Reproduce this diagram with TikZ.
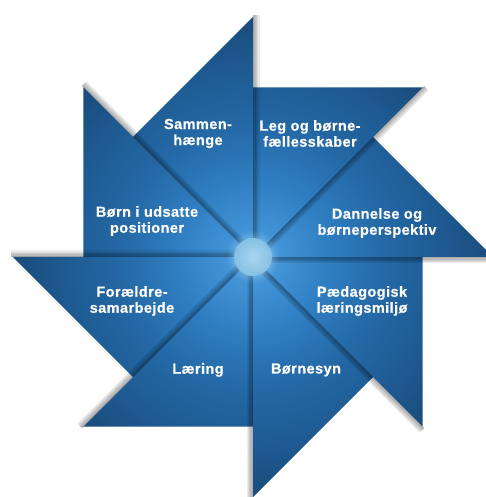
\documentclass[tikz,border=0pt]{standalone}
\usepackage{fontspec}
\setmainfont{Liberation Sans}
\definecolor{cA}{HTML}{5AAAE6}
\definecolor{cB}{HTML}{4293D6}
\definecolor{cC}{HTML}{2F7EC1}
\definecolor{cD}{HTML}{2468A5}
\definecolor{cE}{HTML}{1E5990}
\definecolor{cF}{HTML}{1A4B7B}
\definecolor{circIn}{HTML}{A8D6F0}
\definecolor{circOut}{HTML}{86C0E4}
\definecolor{glow}{HTML}{9FD0F0}
\pgfdeclareradialshading{pinwheel}{\pgfpoint{0bp}{0bp}}{color(0bp)=(cA); color(3bp)=(cB); color(8bp)=(cC); color(14bp)=(cD); color(20bp)=(cE); color(25bp)=(cF); color(50bp)=(cF)}
\begin{document}
\begin{tikzpicture}[x=1pt,y=1pt,
  lbl/.style={text=white, font=\bfseries\fontsize{14.5}{16}\selectfont\addfontfeatures{LetterSpace=3,FakeBold=0.6}, align=center, inner sep=0pt},
  shadowstrip/.style={black, opacity=0.075}]
\useasboundingbox (-253,-240) rectangle (233,257);
\coordinate (C) at (0,0);
% blades with a common radial shading
\begin{scope}
  \clip \foreach \t in {90,45,...,-225} { (0,0) -- (\t:240) -- (\t+45:169.706) -- cycle };
  \shade[shading=pinwheel] (C) circle (240);
\end{scope}
% shadows along each hypotenuse
\foreach \t in {90,45,...,-225} {
  \begin{scope}[rotate=\t]
    \foreach \w in {1.3,2.6,...,7.8} \fill[shadowstrip] (0,0) rectangle (242,-\w);
  \end{scope}
}
% centre
\foreach \r/\o in {26/0.06, 23.5/0.1, 21/0.15} \fill[glow, opacity=\o] (C) circle (\r);
\shade[inner color=circIn, outer color=circOut] (C) circle (19);
% labels
\node[lbl] (n1) at (-55,123.5) {Sammen-\\hænge};
\node[lbl] (n2) at (57,123.5) {Leg og børne-\\fællesskaber};
\node[lbl] (n3) at (124,34) {Dannelse og\\børneperspektiv};
\node[lbl] (n4) at (109,-44) {Pædagogisk\\læringsmiljø};
\node[lbl] (n5) at (53,-113) {Børnesyn};
\node[lbl] (n6) at (-55,-113) {Læring};
\node[lbl] (n7) at (-121,-44) {Forældre-\\samarbejde};
\node[lbl] (n8) at (-106,36) {Børn i udsatte\\positioner};
\end{tikzpicture}
\end{document}
